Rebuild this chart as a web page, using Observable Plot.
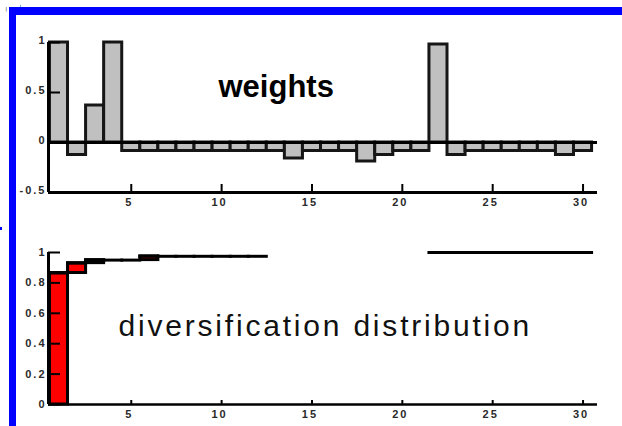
<!DOCTYPE html>
<html><head><meta charset="utf-8">
<script src="https://cdn.jsdelivr.net/npm/d3@7"></script>
<script src="https://cdn.jsdelivr.net/npm/@observablehq/plot@0.6"></script>
<style>
body{margin:0;background:#fff;width:622px;height:426px;overflow:hidden;position:relative;font-family:"Liberation Sans",Arial,sans-serif}
#top,#bot{position:absolute;left:0}
#top{top:0}
#bot{top:215px}
.blue{position:absolute;background:#0000ff;z-index:5}
.cover{position:absolute;background:#fff;z-index:6}
g[aria-label="x-axis tick label"] text, g[aria-label="y-axis tick label"] text{letter-spacing:2px}
</style></head><body>
<div id="top"></div><div id="bot"></div>
<div class="cover" style="left:0;top:0;width:20px;height:7px"></div>
<div class="blue" style="left:9px;top:7px;width:613px;height:8px"></div>
<div class="blue" style="left:9px;top:7px;width:7px;height:419px"></div>
<div class="blue" style="left:0;top:227px;width:2px;height:3px"></div>
<script>
// ---- data ----
const assets = [1,2,3,4,5,6,7,8,9,10,11,12,13,14,15,16,17,18,19,20,21,22,23,24,25,26,27,28,29,30];
const weights = [1, -0.125, 0.37, 1, -0.085, -0.085, -0.085, -0.085, -0.085, -0.085,
                 -0.085, -0.085, -0.085, -0.16, -0.085, -0.085, -0.085, -0.19, -0.125, -0.085,
                 -0.085, 0.98, -0.125, -0.085, -0.085, -0.085, -0.085, -0.085, -0.125, -0.085];
const distLow  = [0, 0.865, 0.93, 0.95, 0.95, 0.95, 0.975, 0.975, 0.975, 0.975,
                  0.975, 0.975, null, null, null, null, null, null, null, null,
                  null, 1, 1, 1, 1, 1, 1, 1, 1, 1];
const distHigh = [0.865, 0.93, 0.95, 0.95, 0.95, 0.975, 0.975, 0.975, 0.975, 0.975,
                  0.975, 0.975, null, null, null, null, null, null, null, null,
                  null, 1, 1, 1, 1, 1, 1, 1, 1, 1];
const xTicks = [5, 10, 15, 20, 25, 30];
const weightTicks = [-0.5, 0, 0.5, 1];
const weightTickLabels = ["-0.5", "0", "0.5", "1"];
const distTicks = [0, 0.2, 0.4, 0.6, 0.8, 1];
const distTickLabels = ["0", "0.2", "0.4", "0.6", "0.8", "1"];
const titleTop = "weights";
const titleBottom = "diversification distribution";

const weightRows = assets.map((a, k) => ({a, w: weights[k]}));
const distRows = assets.map((a, k) => ({a, lo: distLow[k], hi: distHigh[k]})).filter(d => d.hi != null);

const X_DOMAIN = [0.42, 30.8];
const font = "Liberation Sans, Arial, sans-serif";
const labelFill = "#2a2a2a";
const ink = "#161616";

const topChart = Plot.plot({
  width: 622, height: 215,
  marginLeft: 48, marginRight: 25, marginTop: 42, marginBottom: 23,
  x: {domain: X_DOMAIN, axis: null},
  y: {domain: [-0.5, 1], axis: null},
  style: {background: "transparent", fontFamily: font},
  marks: [
    Plot.rect(weightRows, {x1: d => d.a - 0.5, x2: d => d.a + 0.5, y1: 0, y2: "w",
      fill: "#c0c0c0", stroke: ink, strokeWidth: 3}),
    Plot.ruleY([0], {stroke: "#000", strokeWidth: 3}),
    Plot.ruleY([weightTicks[0]], {stroke: "#000", strokeWidth: 3}),
    Plot.ruleX([X_DOMAIN[0]], {y1: weightTicks[0], y2: weightTicks[3], stroke: "#000", strokeWidth: 3}),
    Plot.tickX(xTicks, {x: d => d, insetTop: 142, stroke: "#000", strokeWidth: 2}),
    Plot.tickY(weightTicks, {y: d => d, insetRight: 537, stroke: "#000", strokeWidth: 2}),
    Plot.axisX(xTicks, {tickSize: 0, tickPadding: 6, fontSize: 11, fontWeight: "bold", dx: -2, fill: labelFill}),
    Plot.axisY(weightTicks, {tickSize: 0, tickPadding: 2, fontSize: 11, fontWeight: "bold", dy: -2, fill: labelFill,
      tickFormat: (d, i) => weightTickLabels[i]}),
    Plot.text([titleTop], {frameAnchor: "top-left", textAnchor: "start", dx: 170, dy: 32,
      fontSize: 31, fontWeight: "bold", fill: "#000"})
  ]
});
document.getElementById("top").append(topChart);

const botChart = Plot.plot({
  width: 622, height: 211,
  marginLeft: 48, marginRight: 25, marginTop: 37, marginBottom: 22,
  x: {domain: X_DOMAIN, axis: null},
  y: {domain: [0, 1], axis: null},
  style: {background: "transparent", fontFamily: font},
  marks: [
    Plot.rect(distRows, {x1: d => d.a - 0.5, x2: d => d.a + 0.5, y1: "lo", y2: "hi",
      fill: "#ff0000", stroke: "#000", strokeWidth: 3}),
    Plot.ruleY(distRows, {y: "hi", x1: d => d.a - 0.5, x2: d => d.a + 0.5,
      stroke: "#000", strokeWidth: 3, strokeLinecap: "square"}),
    Plot.ruleY([0], {stroke: "#000", strokeWidth: 2.5}),
    Plot.ruleX([X_DOMAIN[0]], {y1: 0, y2: 1, stroke: "#000", strokeWidth: 3}),
    Plot.tickX(xTicks, {x: d => d, insetTop: 148, stroke: "#000", strokeWidth: 2}),
    Plot.tickY(distTicks, {y: d => d, insetRight: 537, stroke: "#000", strokeWidth: 2}),
    Plot.axisX(xTicks, {tickSize: 0, tickPadding: 6, fontSize: 11, fontWeight: "bold", dx: -2, fill: labelFill}),
    Plot.axisY(distTicks, {tickSize: 0, tickPadding: 2, fontSize: 11, fontWeight: "bold", fill: labelFill,
      tickFormat: (d, i) => distTickLabels[i]}),
    Plot.text([titleBottom], {frameAnchor: "top-left", textAnchor: "start", dx: 70, dy: 62,
      fontSize: 30, fill: "#111"})
  ]
});
document.getElementById("bot").append(botChart);
// widen the letter spacing of the lower panel title
d3.select(botChart).selectAll("text").filter(function() { return this.textContent === titleBottom; })
  .style("letter-spacing", "2.8px");
</script>
</body></html>
